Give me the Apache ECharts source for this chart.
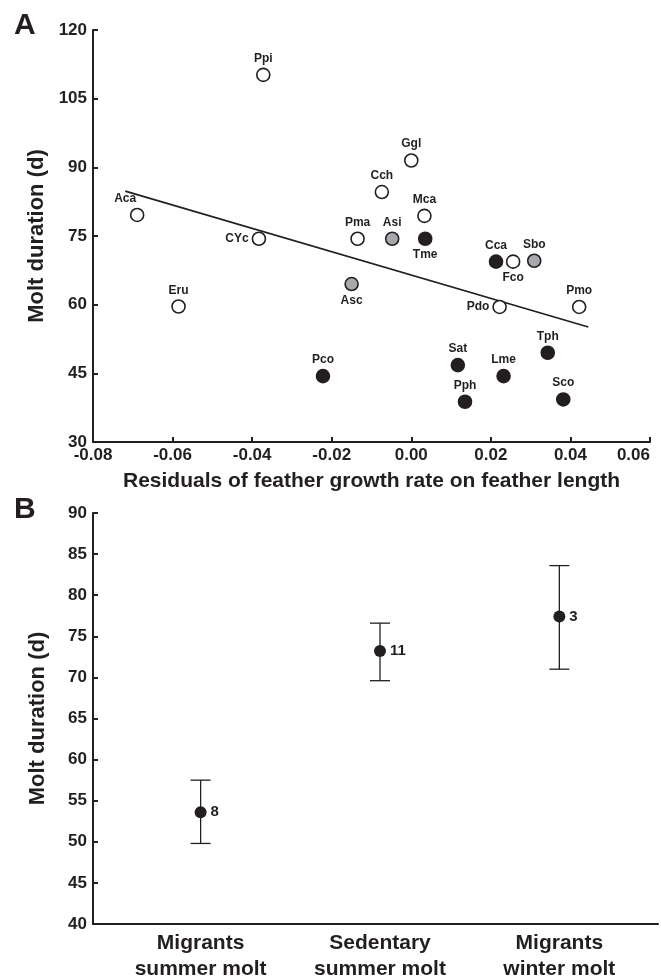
<!DOCTYPE html>
<html>
<head>
<meta charset="utf-8">
<script src="https://cdn.jsdelivr.net/npm/echarts@6/dist/echarts.min.js"></script>
<style>
  html, body { margin: 0; padding: 0; background: #fff; }
  #chart { width: 661px; height: 980px; }
</style>
</head>
<body>
<div id="chart"></div>
<script>
// panel A: species, residuals of feather growth rate, molt duration, group
const species = ['Ppi', 'Aca', 'CYc', 'Eru', 'Ggl', 'Cch', 'Mca', 'Pma', 'Asi', 'Tme', 'Cca',
  'Fco', 'Sbo', 'Asc', 'Pdo', 'Pmo', 'Pco', 'Sat', 'Lme', 'Pph', 'Tph', 'Sco']
const residuals = [-0.0372, -0.0689, -0.0383, -0.0585, 0.0000, -0.0074, 0.0033, -0.0135, -0.0048, 0.0035, 0.0213,
  0.0256, 0.0309, -0.0150, 0.0222, 0.0422, -0.0222, 0.0117, 0.0232, 0.0135, 0.0343, 0.0382]
const moltDays = [110.2, 79.6, 74.4, 59.6, 91.5, 84.6, 79.4, 74.4, 74.4, 74.4, 69.4,
  69.4, 69.6, 64.5, 59.5, 59.5, 44.4, 46.8, 44.4, 38.8, 49.5, 39.3]
// open = white, mixed = grey, filled = black
const groups = ['open', 'open', 'open', 'open', 'open', 'open', 'open', 'open', 'mixed', 'filled', 'filled',
  'open', 'mixed', 'mixed', 'open', 'open', 'filled', 'filled', 'filled', 'filled', 'filled', 'filled']

// fitted line end points
const regX = [-0.0719, 0.0445]
const regY = [84.8, 55.1]

const xTicksA = { min: -0.08, max: 0.06, step: 0.02 }
const yTicksA = { min: 30, max: 120, step: 15 }

// panel B
const categories = ['Migrants\nsummer molt', 'Sedentary\nsummer molt', 'Migrants\nwinter molt']
const catPos = [0.6, 1.6, 2.6]
const means = [53.6, 73.2, 77.4]
const lower = [49.8, 69.6, 71.0]
const upper = [57.5, 76.6, 83.6]
const sampleN = [8, 11, 3]
const yTicksB = { min: 40, max: 90, step: 5 }

const ink = '#231f20'
const font = 'Liberation Sans, Arial, sans-serif'

// where a label sits relative to its circle (default: above)
const labelPlace = {
  Tme: { position: 'bottom' },
  Fco: { position: 'bottom' },
  Asc: { position: 'bottom' },
  CYc: { position: 'left' },
  Pdo: { position: 'left' },
  Aca: { position: 'top', offset: [-12, 0] }
}

const fills = { open: '#ffffff', mixed: '#a7a9ac', filled: ink }

function groupData(g) {
  const out = []
  species.forEach((s, i) => {
    if (groups[i] !== g) return
    const p = labelPlace[s] || { position: 'top' }
    out.push({
      name: s,
      value: [residuals[i], moltDays[i]],
      label: { position: p.position, offset: p.offset || [0, 0] }
    })
  })
  return out
}

function scatterA(g) {
  return {
    type: 'scatter',
    xAxisIndex: 0,
    yAxisIndex: 0,
    symbolSize: 13,
    itemStyle: { color: fills[g], borderColor: ink, borderWidth: 1.6, opacity: 1 },
    label: {
      show: true,
      formatter: '{b}',
      distance: 3,
      color: ink,
      fontFamily: font,
      fontWeight: 'bold',
      fontSize: 12
    },
    emphasis: { disabled: true },
    data: groupData(g),
    z: 3
  }
}

const tickLabel = { color: ink, fontFamily: font, fontWeight: 'bold', fontSize: 17 }
const axisTitle = { color: ink, fontFamily: font, fontWeight: 'bold', fontSize: 21 }
const axisLine = { onZero: false, lineStyle: { color: ink, width: 2 } }
const tick = { inside: true, length: 5, lineStyle: { color: ink, width: 2 } }

const chart = echarts.init(document.getElementById('chart'))

chart.setOption({
  backgroundColor: '#fff',
  animation: false,
  title: [
    { text: 'A', left: 9, top: 6, textStyle: { color: ink, fontFamily: font, fontWeight: 'bold', fontSize: 30 } },
    { text: 'B', left: 9, top: 490, textStyle: { color: ink, fontFamily: font, fontWeight: 'bold', fontSize: 30 } }
  ],
  grid: [
    { left: 93, right: 11, top: 30, height: 412, outerBoundsMode: 'none' },
    { left: 93, right: 3, top: 513, height: 411, outerBoundsMode: 'none' }
  ],
  xAxis: [
    {
      gridIndex: 0,
      type: 'value',
      min: xTicksA.min,
      max: xTicksA.max,
      interval: xTicksA.step,
      name: 'Residuals of feather growth rate on feather length',
      nameLocation: 'middle',
      nameGap: 29,
      nameTextStyle: axisTitle,
      axisLine: axisLine,
      axisTick: tick,
      axisLabel: Object.assign({ margin: 5, alignMaxLabel: 'right', formatter: v => v.toFixed(2) }, tickLabel),
      splitLine: { show: false }
    },
    {
      gridIndex: 1,
      type: 'value',
      min: 0,
      max: 3.15,
      interval: 0.1,
      axisLine: axisLine,
      axisTick: { show: false },
      axisLabel: {
        margin: 6,
        color: ink,
        fontFamily: font,
        fontWeight: 'bold',
        fontSize: 21,
        lineHeight: 26,
        showMaxLabel: false,
        formatter: v => {
          const i = catPos.findIndex(c => Math.abs(c - v) < 1e-6)
          return i < 0 ? '' : categories[i]
        }
      },
      splitLine: { show: false }
    }
  ],
  yAxis: [
    {
      gridIndex: 0,
      type: 'value',
      min: yTicksA.min,
      max: yTicksA.max,
      interval: yTicksA.step,
      name: 'Molt duration (d)',
      nameLocation: 'middle',
      nameGap: 44,
      nameTextStyle: Object.assign({}, axisTitle, { fontSize: 22 }),
      axisLine: axisLine,
      axisTick: tick,
      axisLabel: Object.assign({ margin: 6 }, tickLabel),
      splitLine: { show: false }
    },
    {
      gridIndex: 1,
      type: 'value',
      min: yTicksB.min,
      max: yTicksB.max,
      interval: yTicksB.step,
      name: 'Molt duration (d)',
      nameLocation: 'middle',
      nameGap: 44,
      nameTextStyle: Object.assign({}, axisTitle, { fontSize: 22 }),
      axisLine: axisLine,
      axisTick: tick,
      axisLabel: Object.assign({ margin: 6 }, tickLabel),
      splitLine: { show: false }
    }
  ],
  series: [
    {
      type: 'line',
      xAxisIndex: 0,
      yAxisIndex: 0,
      showSymbol: false,
      lineStyle: { color: ink, width: 1.6 },
      data: regX.map((x, i) => [x, regY[i]]),
      z: 2
    },
    scatterA('open'),
    scatterA('mixed'),
    scatterA('filled'),
    {
      type: 'custom',
      xAxisIndex: 1,
      yAxisIndex: 1,
      data: catPos.map((x, i) => [x, lower[i], upper[i]]),
      renderItem: (params, api) => {
        const top = api.coord([api.value(0), api.value(2)])
        const bot = api.coord([api.value(0), api.value(1)])
        const half = 10
        const style = { stroke: ink, lineWidth: 1.3 }
        return {
          type: 'group',
          children: [
            { type: 'line', shape: { x1: top[0], y1: top[1], x2: bot[0], y2: bot[1] }, style },
            { type: 'line', shape: { x1: top[0] - half, y1: top[1], x2: top[0] + half, y2: top[1] }, style },
            { type: 'line', shape: { x1: bot[0] - half, y1: bot[1], x2: bot[0] + half, y2: bot[1] }, style }
          ]
        }
      },
      z: 2
    },
    {
      type: 'scatter',
      xAxisIndex: 1,
      yAxisIndex: 1,
      symbolSize: 12,
      itemStyle: { color: ink, opacity: 1 },
      label: {
        show: true,
        position: 'right',
        distance: 4,
        formatter: p => String(sampleN[p.dataIndex]),
        color: ink,
        fontFamily: font,
        fontWeight: 'bold',
        fontSize: 15
      },
      emphasis: { disabled: true },
      data: catPos.map((x, i) => [x, means[i]]),
      z: 3
    }
  ]
})
</script>
</body>
</html>
